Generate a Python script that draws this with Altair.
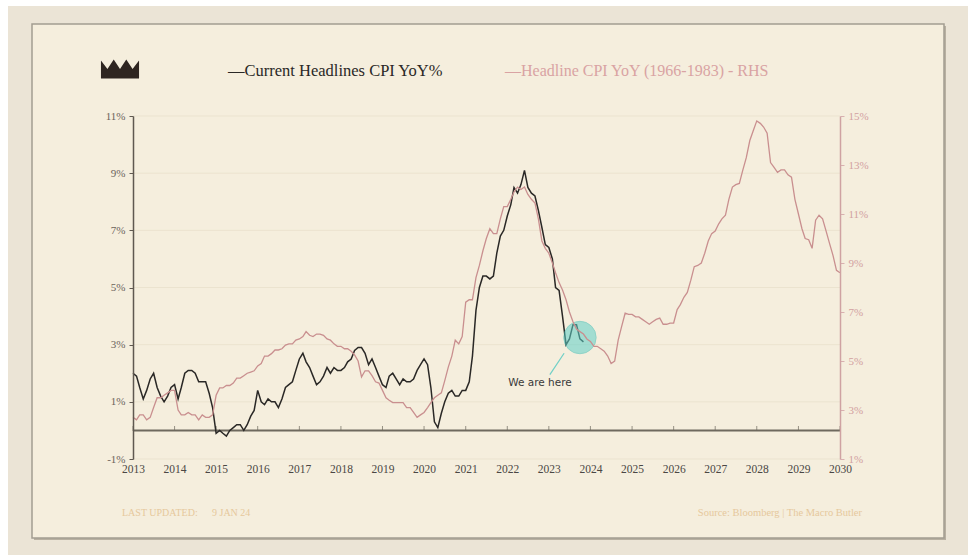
import altair as alt
import pandas as pd

# ---- data -------------------------------------------------------------
# Current US headline CPI, YoY %, monthly from Jan 2013
cpi_now = [
    2.0, 1.9, 1.5, 1.1, 1.4, 1.8, 2.0, 1.5, 1.2, 1.0, 1.2, 1.5,      # 2013
    1.6, 1.1, 1.5, 2.0, 2.1, 2.1, 2.0, 1.7, 1.7, 1.7, 1.3, 0.8,      # 2014
    -0.1, 0.0, -0.1, -0.2, 0.0, 0.1, 0.2, 0.2, 0.0, 0.2, 0.5, 0.7,   # 2015
    1.4, 1.0, 0.9, 1.1, 1.0, 1.0, 0.8, 1.1, 1.5, 1.6, 1.7, 2.1,      # 2016
    2.5, 2.7, 2.4, 2.2, 1.9, 1.6, 1.7, 1.9, 2.2, 2.0, 2.2, 2.1,      # 2017
    2.1, 2.2, 2.4, 2.5, 2.8, 2.9, 2.9, 2.7, 2.3, 2.5, 2.2, 1.9,      # 2018
    1.6, 1.5, 1.9, 2.0, 1.8, 1.6, 1.8, 1.7, 1.7, 1.8, 2.1, 2.3,      # 2019
    2.5, 2.3, 1.5, 0.3, 0.1, 0.6, 1.0, 1.3, 1.4, 1.2, 1.2, 1.4,      # 2020
    1.4, 1.7, 2.6, 4.2, 5.0, 5.4, 5.4, 5.3, 5.4, 6.2, 6.8, 7.0,      # 2021
    7.5, 7.9, 8.5, 8.3, 8.6, 9.1, 8.5, 8.3, 8.2, 7.7, 7.1, 6.5,      # 2022
    6.4, 6.0, 5.0, 4.9, 4.0, 3.0, 3.2, 3.7, 3.7, 3.2, 3.1,           # 2023
]

# Headline CPI 1966-1983, YoY %, laid over the 2013-2030 calendar
cpi_70s = [
    2.7, 2.6, 2.8, 2.8, 2.6, 2.7, 3.1, 3.5, 3.5, 3.6, 3.7, 3.8,
    3.8, 3.0, 2.8, 2.8, 2.9, 2.8, 2.8, 2.6, 2.8, 2.7, 2.7, 2.8,
    3.6, 3.9, 3.9, 4.0, 4.0, 4.1, 4.3, 4.3, 4.4, 4.5, 4.55, 4.6,
    4.8, 4.9, 5.2, 5.2, 5.3, 5.45, 5.45, 5.5, 5.65, 5.7, 5.7, 5.85,
    5.9, 6.0, 6.2, 6.05, 6.0, 6.1, 6.1, 6.05, 5.9, 5.85, 5.7, 5.6,
    5.6, 5.5, 5.5, 5.4, 5.25, 5.0, 4.35, 4.6, 4.6, 4.4, 4.15, 4.1,
    3.8, 3.5, 3.4, 3.3, 3.3, 3.3, 3.3, 3.1, 3.1, 2.9, 2.7, 2.8,
    2.9, 3.1, 3.3, 3.5, 3.6, 3.7, 4.2, 4.75, 5.2, 5.85, 5.7, 6.0,
    7.4, 7.5, 7.5, 8.4, 8.9, 9.5, 10.0, 10.4, 10.2, 10.2, 10.8, 11.3,
    11.3, 11.6, 11.9, 12.1, 12.0, 12.1, 11.8, 11.6, 11.45, 10.8, 9.9, 9.6,
    9.4, 9.0, 8.6, 8.2, 7.9, 7.5, 7.0, 6.6, 6.3, 6.2, 6.1, 5.9,
    5.8, 5.6, 5.6, 5.5, 5.4, 5.2, 4.9, 5.0, 5.85, 6.4, 6.95, 6.9,
    6.9, 6.8, 6.8, 6.7, 6.6, 6.5, 6.6, 6.7, 6.75, 6.5, 6.5, 6.55,
    6.55, 7.1, 7.3, 7.6, 7.8, 8.3, 8.85, 8.9, 9.0, 9.4, 9.9, 10.2,
    10.3, 10.6, 10.8, 10.95, 11.6, 12.1, 12.2, 12.25, 12.8, 13.3, 14.0, 14.4,
    14.8, 14.7, 14.55, 14.3, 13.1, 12.9, 12.7, 12.8, 12.8, 12.6, 12.5, 11.6,
    11.0, 10.4, 10.0, 9.95, 9.6, 10.75, 10.95, 10.8, 10.3, 9.8, 9.3, 8.7,
    8.6,
]

left_ticks = [-1, 1, 3, 5, 7, 9, 11]
right_ticks = [1, 3, 5, 7, 9, 11, 13, 15]
years = list(range(2013, 2031))

# "We are here" marker: date and level on the left axis
here_date, here_level = "2023-10-01", 3.25
here_label = "We are here"

now_df = pd.DataFrame({
    "date": pd.date_range("2013-01-01", periods=len(cpi_now), freq="MS"),
    "v": cpi_now,
})
old_df = pd.DataFrame({
    "date": pd.date_range("2013-01-01", periods=len(cpi_70s), freq="MS"),
    "v": cpi_70s,
})
grid_df = pd.DataFrame({"v": left_ticks})
year_df = pd.DataFrame({
    "date": pd.to_datetime([f"{y}-01-01" for y in years]),
    "v": [0] * len(years),
})
here_df = pd.DataFrame({"date": [pd.Timestamp(here_date)], "v": [here_level]})
pointer_df = pd.DataFrame({
    "date": [pd.Timestamp("2023-05-15")], "v": [2.7],
    "date2": [pd.Timestamp("2023-01-10")], "v2": [1.95],
})
label_df = pd.DataFrame({"date": [pd.Timestamp("2022-10-15")], "v": [1.66], "t": [here_label]})

# ---- styling ----------------------------------------------------------
W, H = 707, 343
SERIF = "Liberation Serif"
INK = "#2a2826"
ROSE = "#c98f8f"
AXIS_GREY = "#5f5850"
FOOT = "#e6c89c"

x_scale = alt.Scale(domain=[alt.DateTime(year=2013, month=1, date=1),
                            alt.DateTime(year=2030, month=1, date=1)])
x_axis = alt.Axis(
    format="%Y", tickCount={"interval": "year", "step": 1},
    domain=False, ticks=False, grid=False, title=None, zindex=1,
    labelFlush=False, labelOverlap=False,
    labelColor="#4a4744", labelFont=SERIF, labelFontSize=11.5, labelPadding=4,
)
y_left = alt.Scale(domain=[-1, 11], nice=False, zero=False)
left_axis = alt.Axis(
    values=left_ticks, labelExpr="datum.value + '%'", orient="left", zindex=1,
    domainColor=AXIS_GREY, domainWidth=1.5, tickColor=AXIS_GREY, tickSize=4,
    labelColor="#6a625a", labelFont=SERIF, labelFontSize=11, labelPadding=4,
    labelFlush=False, grid=False, title=None,
)
y_right = alt.Scale(domain=[1, 15], nice=False, zero=False)
right_axis = alt.Axis(
    values=right_ticks, labelExpr="datum.value + '%'", orient="right", zindex=1,
    domainColor="#cfa2a2", domainWidth=1.5, tickColor="#d8b0b0", tickSize=4,
    labelColor="#d2a0a0", labelFont=SERIF, labelFontSize=11, labelPadding=4,
    labelFlush=False, grid=False, title=None,
)

X = alt.X("date:T", scale=x_scale, axis=x_axis)
YL = alt.Y("v:Q", scale=y_left, axis=left_axis)

# decorative card behind the chart
def panel(x, x2, y, y2, **style):
    return alt.Chart(pd.DataFrame({"k": [0]})).mark_rect(**style).encode(
        x=alt.value(x), x2=alt.value(x2), y=alt.value(y), y2=alt.value(y2)
    )

white_top = panel(-133, 835, -116, -110, color="#ffffff")
white_left = panel(-133, -125, -116, 439, color="#ffffff")
shadow = panel(-99, 813, -90, 424, color="#b8b0a1")
card = panel(-101, 811, -92, 422, color="#f5eedd", stroke="#a39d91", strokeWidth=1.5)

grid = alt.Chart(grid_df).mark_rule(color="#ebe3cf", strokeWidth=1).encode(y=YL)

zero_line = alt.Chart(pd.DataFrame({"v": [0]})).mark_rule(
    color="#6e695e", strokeWidth=2
).encode(y=YL)

year_ticks = alt.Chart(year_df).mark_tick(
    color="#6e695e", size=5, thickness=1, orient="vertical", yOffset=-2
).encode(x=X, y=YL)

line_now = alt.Chart(now_df).mark_line(color=INK, strokeWidth=1.5).encode(x=X, y=YL)

here_circle = alt.Chart(here_df).mark_point(
    shape="circle", size=1050, filled=True, color="#5fd0c8", opacity=0.55,
    stroke="#3dbdb5", strokeWidth=1,
).encode(x=X, y=YL)

pointer = alt.Chart(pointer_df).mark_rule(color="#6fcfc6", strokeWidth=1.2).encode(
    x=X, x2="date2:T", y=YL, y2="v2:Q",
)

here_text = alt.Chart(label_df).mark_text(
    font="DejaVu Sans", fontSize=10.5, color="#3a3a3a", align="center", baseline="middle"
).encode(x=X, y=YL, text="t:N")

line_old = alt.Chart(old_df).mark_line(color=ROSE, strokeWidth=1.3).encode(
    x=X, y=alt.Y("v:Q", scale=y_right, axis=right_axis)
)

# header: logo and series key, footer notes
def label(text, x, y, color, size, font=SERIF, align="left"):
    return alt.Chart(pd.DataFrame({"t": [text]})).mark_text(
        font=font, fontSize=size, color=color, align=align, baseline="middle"
    ).encode(x=alt.value(x), y=alt.value(y), text="t:N")

CROWN = ("M -1 0.45 L -1 -0.5 L -0.66 -0.05 L -0.33 -0.55 L 0 -0.05 "
         "L 0.33 -0.55 L 0.66 -0.05 L 1 -0.5 L 1 0.45 Z")
crown = alt.Chart(pd.DataFrame({"k": [0]})).mark_point(
    shape=CROWN, size=1450, filled=True, color="#2e2520", opacity=1
).encode(x=alt.value(-13), y=alt.value(-46))

key_now = label("\u2014Current Headlines CPI YoY%", 95, -45, INK, 16.5)
key_old = label("\u2014Headline CPI YoY (1966-1983) - RHS", 372, -45, "#d9a3a3", 16)
foot_left = label("LAST UPDATED:", -11, 397, FOOT, 10)
foot_date = label("9 JAN 24", 79, 397, FOOT, 10)
foot_right = label("Source: Bloomberg  |  The Macro Butler", 729, 397, FOOT, 10.5, align="right")

left_group = alt.layer(
    white_top, white_left, shadow, card, grid, zero_line, year_ticks,
    line_now, pointer, here_circle, here_text,
    crown, key_now, key_old, foot_left, foot_date, foot_right,
)

chart = (
    alt.layer(left_group, line_old)
    .resolve_scale(y="independent")
    .properties(
        width=W, height=H, background="#ebe4d6",
        padding={"left": 133, "top": 116, "right": 128, "bottom": 96},
        autosize=alt.AutoSizeParams(type="none"),
    )
    .configure_view(stroke=None)
)

chart.save("out.html", embed_options={"renderer": "svg", "actions": False})
